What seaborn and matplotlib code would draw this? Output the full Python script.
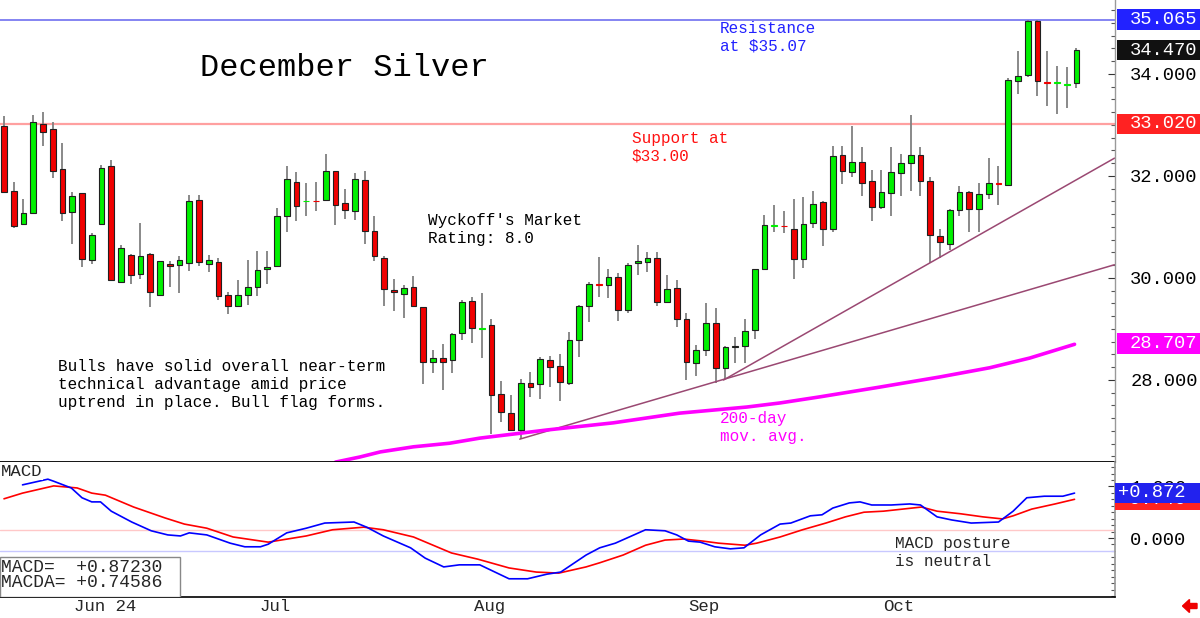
import matplotlib
matplotlib.use("Agg")
import matplotlib.pyplot as plt
from matplotlib.patches import Rectangle, FancyArrow
from matplotlib.transforms import blended_transform_factory
from matplotlib.ticker import MultipleLocator, FormatStrFormatter
import numpy as np
import pandas as pd
import seaborn as sns

# daily candles, December silver
opens = [32.98, 31.71, 31.06, 31.28, 33.02, 32.93, 32.14, 31.30, 31.66, 30.35,
         31.05, 32.20, 29.93, 30.46, 30.08, 30.48, 29.67, 30.27, 30.26, 30.29,
         31.52, 30.28, 30.31, 29.66, 29.46, 29.67, 29.82, 30.17, 30.23, 31.22,
         31.88, 31.50, 31.51, 31.52, 32.10, 31.48, 31.31, 31.92, 30.92, 30.39,
         29.77, 29.69, 29.82, 29.43, 28.35, 28.43, 28.39, 28.92, 29.54, 29.00,
         29.08, 27.72, 27.35, 27.02, 27.95, 27.93, 28.39, 28.27, 27.94, 28.78,
         29.46, 29.87, 29.86, 30.01, 29.37, 30.29, 30.32, 30.39, 29.52, 29.80,
         29.20, 28.34, 28.58, 29.11, 28.24, 28.64, 28.67, 28.98, 30.18, 31.02,
         31.02, 30.97, 30.38, 31.07, 31.49, 30.97, 32.41, 32.08, 32.27, 31.90,
         31.39, 31.66, 32.05, 32.25, 32.41, 31.90, 30.82, 30.66, 31.33, 31.69,
         31.36, 31.65, 31.86, 31.83, 33.87, 33.98, 35.03, 33.84, 33.82, 33.79,
         33.82]
highs = [33.18, 31.89, 31.54, 33.20, 33.26, 33.05, 32.64, 31.69, 31.67, 30.88,
         32.22, 32.31, 30.64, 30.47, 31.07, 30.49, 30.34, 30.33, 30.44, 31.63,
         31.62, 30.46, 30.39, 29.73, 29.96, 30.35, 30.53, 30.52, 31.37, 32.20,
         32.07, 31.86, 31.88, 32.43, 32.10, 31.75, 32.05, 32.09, 31.22, 30.44,
         29.99, 29.86, 30.03, 29.44, 28.59, 28.71, 28.92, 29.56, 29.63, 29.71,
         29.19, 27.99, 27.71, 28.01, 28.16, 28.46, 28.47, 28.51, 28.95, 29.47,
         29.92, 30.42, 30.18, 30.09, 30.30, 30.64, 30.50, 30.50, 30.05, 29.96,
         29.31, 28.69, 29.50, 29.42, 28.66, 28.85, 29.19, 30.18, 31.24, 31.43,
         31.32, 31.55, 31.58, 31.71, 31.50, 32.58, 32.58, 32.98, 32.56, 32.12,
         32.12, 32.56, 32.44, 33.20, 32.56, 31.99, 30.97, 31.36, 31.80, 31.70,
         31.86, 32.35, 32.20, 33.93, 34.45, 35.065, 35.065, 34.45, 34.16, 34.14,
         34.50]
lows = [31.66, 30.99, 31.04, 31.27, 32.58, 31.97, 31.12, 30.67, 30.22, 30.28,
        31.04, 29.94, 29.92, 29.88, 29.99, 29.44, 29.66, 29.82, 29.70, 30.13,
        30.24, 30.11, 29.57, 29.29, 29.44, 29.47, 29.64, 29.88, 30.22, 30.90,
        31.12, 31.22, 31.32, 31.52, 31.04, 31.16, 31.14, 30.67, 30.34, 29.45,
        29.35, 29.22, 29.45, 27.92, 28.13, 27.80, 28.14, 28.78, 28.73, 28.43,
        26.94, 27.18, 27.00, 26.84, 27.67, 27.63, 27.86, 27.59, 27.90, 28.45,
        29.14, 29.63, 29.61, 29.16, 29.32, 30.06, 30.11, 29.46, 29.51, 29.03,
        28.00, 28.07, 28.48, 27.95, 28.01, 28.33, 28.34, 28.80, 30.16, 30.91,
        30.88, 29.99, 30.19, 30.99, 30.63, 30.91, 31.84, 31.99, 31.60, 31.12,
        31.35, 31.22, 31.61, 31.71, 31.61, 30.29, 30.40, 30.54, 31.22, 30.90,
        30.91, 31.55, 31.43, 31.82, 33.61, 33.94, 33.57, 33.38, 33.22, 33.34,
        33.72]
closes = [31.69, 31.02, 31.27, 33.05, 32.87, 32.09, 31.27, 31.61, 30.37, 30.85,
          32.15, 29.96, 30.58, 30.06, 30.44, 29.72, 30.33, 30.23, 30.35, 31.51,
          30.31, 30.35, 29.64, 29.46, 29.66, 29.82, 30.15, 30.21, 31.22, 31.95,
          31.42, 31.51, 31.50, 32.10, 31.44, 31.33, 31.94, 30.92, 30.43, 29.78,
          29.72, 29.80, 29.46, 28.35, 28.43, 28.35, 28.91, 29.52, 29.01, 29.01,
          27.71, 27.37, 27.01, 27.95, 27.87, 28.41, 28.26, 27.97, 28.78, 29.46,
          29.88, 29.86, 30.01, 29.37, 30.25, 30.33, 30.39, 29.52, 29.78, 29.20,
          28.36, 28.58, 29.12, 28.24, 28.65, 28.67, 28.96, 30.17, 31.03, 31.03,
          31.01, 30.38, 31.05, 31.46, 30.96, 32.40, 32.09, 32.27, 31.87, 31.39,
          31.68, 32.07, 32.25, 32.42, 31.90, 30.85, 30.70, 31.33, 31.69, 31.36,
          31.65, 31.86, 31.85, 33.88, 33.96, 35.03, 33.86, 33.83, 33.84, 33.80,
          34.47]

month_idx = [7, 26, 48, 70, 90]
month_labels = ["Jun 24", "Jul", "Aug", "Sep", "Oct"]

# 200-day moving average
ma_idx = [34.0, 36.5, 38.6, 42.0, 45.7, 48.8, 55.7, 62.5, 69.3, 76.2, 79.6,
          83.7, 89.8, 96.0, 101.1, 105.2, 109.8]
ma_vals = [26.39, 26.49, 26.59, 26.69, 26.76, 26.86, 27.02, 27.16, 27.35, 27.47,
           27.55, 27.67, 27.86, 28.06, 28.24, 28.43, 28.70]

# uptrend lines
trend_a_idx = [52.9, 113.9]
trend_a_vals = [26.84, 30.26]
trend_b_idx = [73.8, 113.9]
trend_b_vals = [28.00, 32.35]

# MACD and its average
macd_idx = [1.9, 4.5, 5.1, 6.9, 8.0, 9.0, 9.9, 11.0, 13.1, 15.1, 16.8, 18.1, 19.0,
            20.8, 23.2, 24.7, 26.3, 27.1, 29.0, 31.0, 32.9, 35.9, 37.2, 38.9, 41.7,
            43.2, 45.1, 46.7, 48.8, 51.8, 53.7, 55.7, 57.1, 59.7, 61.1, 62.7, 65.8,
            67.8, 69.0, 70.2, 71.4, 72.9, 74.5, 75.9, 77.6, 79.6, 80.7, 82.7, 83.9,
            85.0, 86.7, 87.8, 89.0, 91.0, 92.9, 94.0, 95.7, 97.2, 99.2, 102.0, 103.5,
            104.9, 106.7, 108.6, 109.8]
macd_vals = [1.03, 1.14, 1.10, 0.97, 0.78, 0.70, 0.70, 0.52, 0.31, 0.14, 0.06, 0.04,
             0.10, 0.06, -0.10, -0.17, -0.17, -0.12, 0.10, 0.19, 0.29, 0.31, 0.21,
             0.04, -0.19, -0.39, -0.56, -0.52, -0.52, -0.79, -0.79, -0.70, -0.66,
             -0.33, -0.19, -0.10, 0.16, 0.14, 0.06, -0.06, -0.08, -0.17, -0.21,
             -0.19, 0.06, 0.27, 0.29, 0.43, 0.45, 0.58, 0.68, 0.70, 0.64, 0.64,
             0.66, 0.64, 0.41, 0.35, 0.29, 0.31, 0.52, 0.78, 0.81, 0.81, 0.87]
sig_idx = [0, 1.9, 5.1, 7.5, 9.0, 10.4, 13.3, 16.5, 18.5, 20.8, 23.5, 27.1, 31.0,
           33.7, 36.9, 38.9, 42.0, 45.9, 48.6, 51.8, 54.6, 56.9, 59.7, 61.1, 63.5,
           65.8, 67.8, 69.7, 71.7, 73.3, 76.0, 77.2, 79.6, 81.9, 84.3, 86.3, 88.2,
           90.2, 94.1, 95.7, 98.1, 100.4, 102.4, 103.5, 105.4, 107.8, 109.8]
sig_vals = [0.76, 0.87, 1.01, 0.97, 0.87, 0.83, 0.60, 0.39, 0.27, 0.19, 0.02, -0.08,
            0.04, 0.16, 0.21, 0.16, 0.02, -0.29, -0.41, -0.58, -0.66, -0.68, -0.56,
            -0.48, -0.33, -0.14, -0.04, -0.02, -0.06, -0.10, -0.14, -0.10, 0.02,
            0.16, 0.29, 0.41, 0.50, 0.52, 0.60, 0.52, 0.47, 0.41, 0.37, 0.43, 0.56,
            0.66, 0.75]

support = 33.02
resistance = 35.065
last_price = 34.47
ma_last = 28.707
macd_last = 0.87230
macda_last = 0.74586
macd_hi_line = 0.155
macd_lo_line = -0.25

sns.set_theme(style="white")
plt.rcParams["font.family"] = ["Liberation Mono", "DejaVu Sans"]

fig = plt.figure(figsize=(12, 6.18), dpi=100)
ax = fig.add_axes([0, 0.25243, 0.92917, 0.74757])
axm = fig.add_axes([0, 0.03398, 0.92917, 0.21845])

# ---- price panel ----
df = pd.DataFrame({"open": opens, "high": highs, "low": lows, "close": closes})
df["idx"] = np.arange(len(df))
up = df["close"] >= df["open"]
diff = (df["close"] - df["open"]).abs()
body_lo = df[["open", "close"]].min(axis=1)
body_h = diff.clip(lower=0.015)
fill = np.where(up, "#00F000", "#F00000")
edge = np.where(diff < 0.03, fill, "#202020")

ax.axhline(resistance, color="#7070F0", lw=1.2, zorder=1)
ax.axhline(support, color="#FFA0A0", lw=1.6, zorder=1)

ax.vlines(df["idx"], df["low"], df["high"], color="#808080", lw=1.3, zorder=2)
ax.bar(df["idx"], body_h, bottom=body_lo, width=0.58, color=fill,
       edgecolor=edge, linewidth=0.8, zorder=3)

sns.lineplot(x=trend_a_idx, y=trend_a_vals, ax=ax, color="#9A4872", lw=1.1, zorder=2)
sns.lineplot(x=trend_b_idx, y=trend_b_vals, ax=ax, color="#9A4872", lw=1.1, zorder=2)
sns.lineplot(x=ma_idx, y=ma_vals, ax=ax, color="#FF00FF", lw=2.6, zorder=2)

xmin, xmax = -0.41, 113.95
ax.set_xlim(xmin, xmax)
ax.set_ylim(26.392, 35.451)
ax.set_xticks([])
ax.yaxis.tick_right()
ax.set_yticks([28, 30, 32, 34])
ax.yaxis.set_major_formatter(FormatStrFormatter("%.3f"))
ax.yaxis.set_minor_locator(MultipleLocator(0.25))
ax.tick_params(axis="y", which="major", direction="in", length=5, width=0.8,
               pad=11, labelsize=13.5, colors="#333333", labelcolor="black")
ax.tick_params(axis="y", which="minor", direction="in", length=3, width=0.8,
               colors="#555555")
for s in ["top", "left"]:
    ax.spines[s].set_visible(False)
ax.spines["bottom"].set_color("black")
ax.spines["bottom"].set_linewidth(1.3)
ax.spines["right"].set_color("#999999")
ax.spines["right"].set_linewidth(1.0)

tr = blended_transform_factory(ax.transAxes, ax.transData)
for val, col in [(resistance, "#2222FF"), (last_price, "#111111"),
                 (support, "#FF2222"), (ma_last, "#FF00FF")]:
    ax.add_patch(Rectangle((1.0018, val - 0.205), 0.0745, 0.41, transform=tr,
                           facecolor=col, edgecolor="none", clip_on=False, zorder=10))
    ax.text(1.0135, val, f"{val:.3f}", transform=tr, color="white", fontsize=13.5,
            ha="left", va="center", zorder=11, clip_on=False)

ax.text(0.1794, 0.853, "December Silver", transform=ax.transAxes, fontsize=23,
        ha="left", va="center", color="black")
ax.text(0.6457, 0.954, "Resistance\nat $35.07", transform=ax.transAxes,
        fontsize=11.5, color="#2222FF", ha="left", va="top", linespacing=1.22)
ax.text(0.5668, 0.716, "Support at\n$33.00", transform=ax.transAxes,
        fontsize=11.5, color="#FF1111", ha="left", va="top", linespacing=1.22)
ax.text(0.3839, 0.538, "Wyckoff's Market\nRating: 8.0", transform=ax.transAxes,
        fontsize=11.5, color="black", ha="left", va="top", linespacing=1.22)
ax.text(0.052, 0.222, "Bulls have solid overall near-term\n"
        "technical advantage amid price\nuptrend in place. Bull flag forms.",
        transform=ax.transAxes, fontsize=11.5, color="black", ha="left", va="top",
        linespacing=1.22)
ax.text(0.6457, 0.110, "200-day\nmov. avg.", transform=ax.transAxes,
        fontsize=11.5, color="#FF00FF", ha="left", va="top", linespacing=1.22)

# ---- MACD panel ----
axm.axhline(macd_hi_line, color="#FFC8C8", lw=1.0, zorder=1)
axm.axhline(macd_lo_line, color="#C8C8FF", lw=1.0, zorder=1)
sns.lineplot(x=sig_idx, y=sig_vals, ax=axm, color="#FF0000", lw=1.2, sort=False, zorder=2)
sns.lineplot(x=macd_idx, y=macd_vals, ax=axm, color="#0000FF", lw=1.2, sort=False, zorder=3)

axm.set_xlim(xmin, xmax)
axm.set_ylim(-1.143, 1.473)
axm.yaxis.tick_right()
axm.set_yticks([0, 1])
axm.yaxis.set_major_formatter(FormatStrFormatter("%.3f"))
axm.yaxis.set_minor_locator(MultipleLocator(0.125))
axm.tick_params(axis="y", which="major", direction="in", length=5, width=0.8,
                pad=11, labelsize=13.5, colors="#333333", labelcolor="black")
axm.tick_params(axis="y", which="minor", direction="in", length=3, width=0.8,
                colors="#555555")
axm.set_xticks(month_idx)
axm.set_xticklabels([""] * len(month_idx))
axm.tick_params(axis="x", direction="out", length=15, width=1.0, colors="#999999")
for s in ["top", "left"]:
    axm.spines[s].set_visible(False)
axm.spines["bottom"].set_color("black")
axm.spines["bottom"].set_linewidth(1.2)
axm.spines["right"].set_color("#999999")

trm = blended_transform_factory(axm.transAxes, axm.transData)
for val, col in [(macda_last, "#FF2222"), (macd_last, "#2222EE")]:
    axm.add_patch(Rectangle((1.0, val - 0.195), 0.077, 0.39, transform=trm,
                            facecolor=col, edgecolor="none", clip_on=False, zorder=10))
    axm.text(1.0027, val, f"{val:+.3f}", transform=trm, color="white",
             fontsize=13.5, ha="left", va="center", zorder=10, clip_on=False)

axm.text(0.001, 0.985, "MACD", transform=axm.transAxes, fontsize=12.5,
         ha="left", va="top", zorder=6,
         bbox=dict(boxstyle="square,pad=0.05", fc="white", ec="none"))
axm.add_patch(Rectangle((0, 0), 0.1614, 0.296, transform=axm.transAxes,
                        facecolor="white", edgecolor="#888888", lw=1.0, zorder=5))
axm.text(0.001, 0.222, f"MACD=  {macd_last:+.5f}", transform=axm.transAxes,
         fontsize=13, ha="left", va="center", zorder=6)
axm.text(0.001, 0.104, f"MACDA= {macda_last:+.5f}", transform=axm.transAxes,
         fontsize=13, ha="left", va="center", zorder=6)
axm.text(0.8027, 0.450, "MACD posture\nis neutral", transform=axm.transAxes,
         fontsize=11.5, ha="left", va="top", linespacing=1.22)

trx = blended_transform_factory(axm.transData, axm.transAxes)
for i, lab in zip(month_idx, month_labels):
    axm.text(i + 0.2, -0.067, lab, transform=trx, fontsize=12.5, ha="left",
             va="center", clip_on=False)

# little red back-arrow in the bottom-right corner
fig.add_artist(FancyArrow(11.97, 0.12, -0.145, 0.0, width=0.05, head_width=0.13,
                          head_length=0.07, length_includes_head=True,
                          color="#EE0000", transform=fig.dpi_scale_trans))

fig.savefig("out.png", dpi=100, facecolor="white")
